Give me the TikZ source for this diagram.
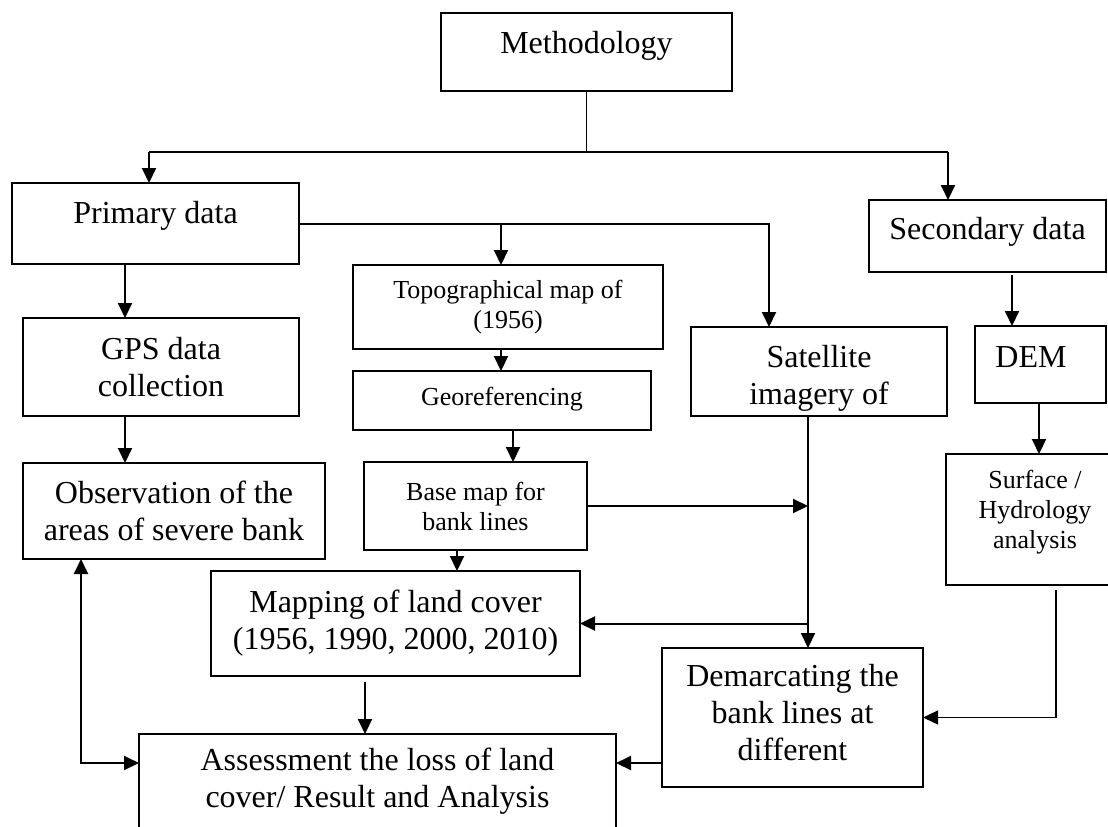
\documentclass[tikz,border=0pt]{standalone}
\usepackage{fontspec}
\setmainfont{Liberation Serif}
\usetikzlibrary{arrows.meta}

\newcommand{\lift}[1]{\rule[-#1]{0pt}{#1}}

\tikzset{
  box/.style={draw, line width=1pt, inner sep=0pt, outer sep=0pt, align=center},
  wh/.style 2 args={minimum width=#1*0.5pt, minimum height=#2*0.5pt},
  big/.style={font=\fontsize{16pt}{18.5pt}\selectfont},
  small/.style={font=\fontsize{13pt}{15pt}\selectfont},
  link/.style={line width=1pt},
  thinline/.style={line width=0.65pt}
}

\begin{document}
\begin{tikzpicture}[x=0.5pt, y=-0.5pt, >={Triangle[width=7pt,length=7.5pt]}]
\useasboundingbox (0,0) rectangle (1108,826);
\clip (0,0) rectangle (1108,826);

% Caselle
\node[box, big, wh={291}{78}, text height=11pt, text depth=10pt] (meth) at (586.5,52) {Methodology};
\node[box, big, wh={287}{81}, text height=11pt, text depth=11.5pt] (prim) at (155.5,223.5) {Primary data};
\node[box, big, wh={237}{72}, text height=11pt, text depth=8pt] (sec) at (987.5,236) {Secondary data};
\node[box, big, wh={276}{98}] (gps) at (161,367) {GPS data\\collection};
\node[box, big, wh={302}{96}] (obs) at (174,511) {Observation of the\\areas of severe bank};
\node[box, small, wh={310}{84}] (topo) at (508,307) {Topographical map of\\(1956)};
\node[box, small, wh={298}{59}, text height=9pt, text depth=4.5pt] (geo) at (502,400.5) {Georeferencing};
\node[box, small, wh={223}{88}] (base) at (475.5,506) {Base map for\\bank lines};
\node[box, big, wh={256}{89}] (sat) at (819,371.5) {\rule{0pt}{17.5pt}Satellite\\imagery of};
\node[box, big, wh={131}{77}, text height=11pt, text depth=8.5pt] (dem) at (1040.5,364.5) {DEM\hspace{9.5pt}};
\node[box, small, wh={178}{131}] (surf) at (1035,519.5) {Surface /\\Hydrology\\analysis\lift{10.4pt}};
\node[box, big, wh={369}{105}] (mapg) at (395.5,623.5) {Mapping of land cover\\(1956, 1990, 2000, 2010)};
\node[box, big, wh={261}{139}] (dema) at (792.5,717.5) {Demarcating the\\bank lines at\\different\lift{5.4pt}};
\node[box, big, wh={477}{94}] (asse) at (377.5,781) {Assessment the loss of land\\cover/ Result and Analysis};

% Corsie dei collegamenti
\coordinate (jL) at (149,152);
\coordinate (jR) at (948,152);
\coordinate (lGps) at (125,0);
\coordinate (lTopo) at (501,0);
\coordinate (lGeo) at (513,0);
\coordinate (lBase) at (457,0);
\coordinate (lSat) at (769,0);
\coordinate (lDown) at (808,0);
\coordinate (lSec) at (1012,0);
\coordinate (lDem) at (1039,0);
\coordinate (lSurf) at (1056,0);
\coordinate (lMap) at (365,0);
\coordinate (lObs) at (81,0);
\coordinate (rLow) at (0,763);

% Frecce
\draw[thinline] (meth.south) |- (jL);
\draw[thinline] (meth.south) |- (jR);
\draw[link, ->] (jL) -- (jL |- prim.north);
\draw[link, ->] (jR) -- (jR |- sec.north);
\draw[link, ->] (prim.east) -| (lSat |- sat.north);
\draw[link, ->] (lTopo |- prim.east) -- (lTopo |- topo.north);
\draw[link, ->] (lGps |- prim.south) -- (lGps |- gps.north);
\draw[link, ->] (lGps |- gps.south) -- (lGps |- obs.north);
\draw[link, ->] (lTopo |- topo.south) -- (lTopo |- geo.north);
\draw[link, ->] (lGeo |- geo.south) -- (lGeo |- base.north);
\draw[link, ->] (lBase |- base.south) -- (lBase |- mapg.north);
\draw[link, ->] (base.east) -- (base.east -| lDown);
\draw[link, ->] (lDown |- sat.south) -- (lDown |- dema.north);
\draw[link, ->] (mapg.east -| lDown) -- (mapg.east);
\draw[link, ->, shorten <=1.5pt] (lSec |- sec.south) -- (lSec |- dem.north);
\draw[link, ->] (lDem |- dem.south) -- (lDem |- surf.north);
\draw[thinline, ->, shorten <=2.5pt] (lSurf |- surf.south) |- (dema.east);
\draw[link, ->, shorten <=3pt] (lMap |- mapg.south) -- (lMap |- asse.north);
\draw[link, ->] (dema.west |- rLow) -- (asse.east |- rLow);
\draw[link, <->] (lObs |- obs.south) |- (asse.west |- rLow);

\end{tikzpicture}
\end{document}
